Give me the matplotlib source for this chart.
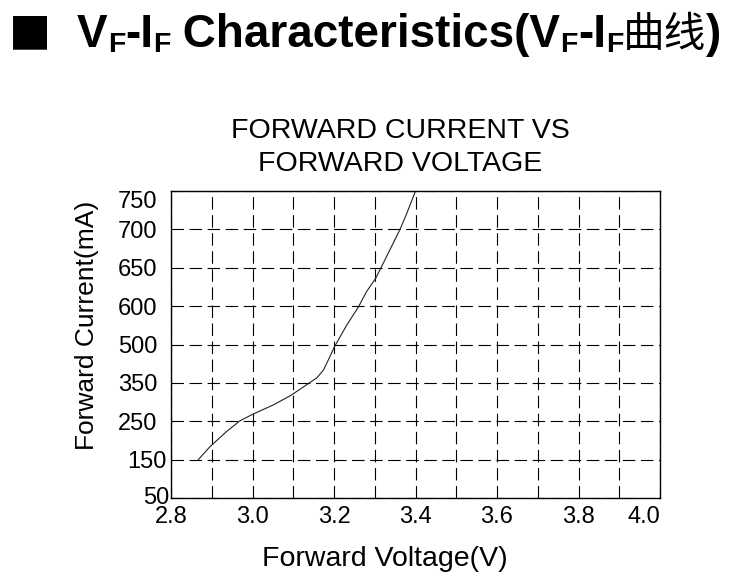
import numpy as np
import matplotlib
matplotlib.use("Agg")
import matplotlib.pyplot as plt
from matplotlib.transforms import ScaledTranslation

plt.rcParams['font.family'] = ['Liberation Sans', 'DejaVu Sans']
plt.rcParams['lines.scale_dashes'] = False

# values
forward_voltage = [2.867, 2.896, 2.935, 2.969, 3.00, 3.05, 3.092, 3.137, 3.158, 3.174,
                   3.188, 3.201, 3.231, 3.26, 3.28, 3.302, 3.321, 3.362, 3.378, 3.40]
forward_current = [150, 184, 222, 251, 268, 292, 316, 348, 370, 400,
                   446, 491, 550, 598, 619, 636, 656, 700, 720, 750]

# the current axis is not linear: the labels are evenly spaced
current_ticks = [50, 150, 250, 350, 500, 600, 650, 700, 750]
voltage_ticks = [2.8, 3.0, 3.2, 3.4, 3.6, 3.8, 4.0]
voltage_minor = [2.9, 3.1, 3.3, 3.5, 3.7, 3.9]
voltage_labels = ["2.8", "3.0", "3.2", "3.4", "3.6", "3.8", "4.0"]

tick_index = np.arange(len(current_ticks))


def to_index(v):
    return np.interp(v, current_ticks, tick_index)


def from_index(p):
    return np.interp(p, tick_index, current_ticks)


fig = plt.figure(figsize=(7.36, 5.8), dpi=100)
ax = fig.add_axes([171 / 736, 82 / 580, 489 / 736, 307 / 580])

ax.set_yscale('function', functions=(to_index, from_index))
ax.plot(forward_voltage, forward_current, color='#222222', lw=0.8)

ax.set_xlim(2.8, 4.0)
ax.set_ylim(50, 750)
ax.set_xticks(voltage_ticks)
ax.set_xticklabels(voltage_labels)
ax.set_xticks(voltage_minor, minor=True)
ax.set_yticks(current_ticks)
ax.set_yticklabels([str(c) for c in current_ticks])
ax.yaxis.set_minor_locator(matplotlib.ticker.NullLocator())

ax.grid(True, which='both', axis='x', color='black', lw=0.8, linestyle=(0, (9, 4)))
ax.grid(True, which='major', axis='y', color='black', lw=0.8, linestyle=(0, (9, 4)))
ax.tick_params(which='both', length=0)
ax.tick_params(axis='y', labelsize=17, pad=10)
ax.tick_params(axis='x', labelsize=17, pad=6)
for s in ax.spines.values():
    s.set_linewidth(1.0)
    s.set_color('black')

# small label nudges seen in the reference
yl = ax.get_yticklabels()
yl[-1].set_va('top')
yl[1].set_transform(yl[1].get_transform() + ScaledTranslation(10 / 100, 0, fig.dpi_scale_trans))
yl[0].set_transform(yl[0].get_transform() + ScaledTranslation(12 / 100, 3 / 100, fig.dpi_scale_trans))
ax.get_xticklabels()[-1].set_ha('right')

ax.set_xlabel("Forward Voltage(V)", fontsize=20.5)
ax.xaxis.set_label_coords((385 - 171) / 489, (498 - 546) / 307)
ax.set_ylabel("Forward Current(mA)", fontsize=19)
ax.yaxis.set_label_coords((99 - 171) / 489, (498 - 325) / 307)

fig.text(400 / 736, 1 - 138 / 580, "FORWARD CURRENT VS", fontsize=20.5, ha='center', va='baseline')
fig.text(400 / 736, 1 - 171 / 580, "FORWARD VOLTAGE", fontsize=20.5, ha='center', va='baseline')

# heading: pieces chained left to right on one baseline
base = 580 - 47
fig.text(9 / 736, (base + 4) / 580, "■", fontsize=32, family='DejaVu Sans', ha='left', va='baseline')
prev = fig.text(77 / 736, base / 580, "V", fontsize=33, weight='bold', ha='left', va='baseline')
pieces = [("F", 20.5, -5, 'bold'), ("-I", 33, 0, 'bold'), ("F", 20.5, -5, 'bold'),
          (" Characteristics(V", 33, 0, 'bold'), ("F", 20.5, -5, 'bold'),
          ("-I", 33, 0, 'bold'), ("F", 20.5, -5, 'bold'), ("曲线", 30, 0, 'normal'),
          (")", 33, 0, 'bold')]
for txt, size, dy, wt in pieces:
    fam = ['Noto Sans CJK SC'] if txt == "曲线" else ['Liberation Sans', 'DejaVu Sans']
    prev = ax.annotate(txt, xy=(1, base + dy), xycoords=(prev, 'figure pixels'),
                       fontsize=size, weight=wt, family=fam, ha='left', va='baseline',
                       annotation_clip=False)

fig.savefig("out.png", dpi=100)
